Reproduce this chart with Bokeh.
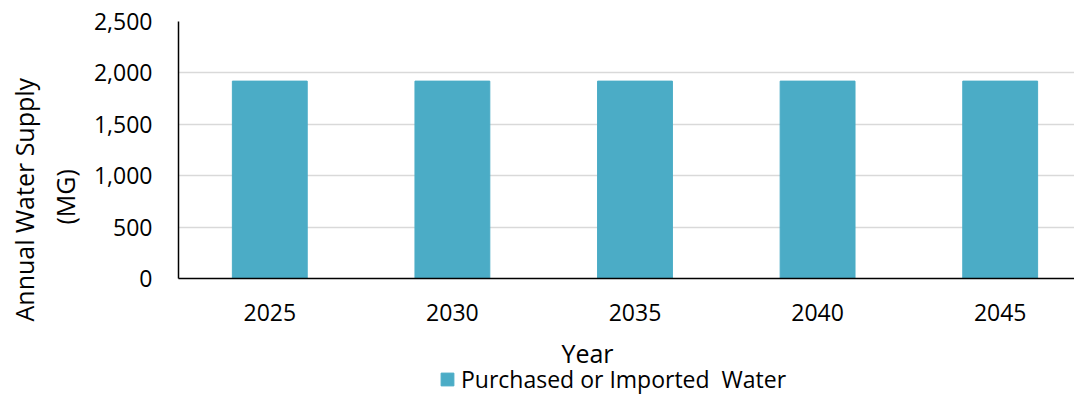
from bokeh.plotting import figure
from bokeh.layouts import column
from bokeh.models import (Range1d, FixedTicker, NumeralTickFormatter, Title, Legend,
                          LegendItem, Label)
from bokeh.embed import file_html
from bokeh.resources import INLINE

years = ["2025", "2030", "2035", "2040", "2045"]
supply = [1920, 1920, 1920, 1920, 1920]
y_ticks = [0, 500, 1000, 1500, 2000, 2500]
series_name = "Purchased or Imported  Water"
x_title = "Year"
y_title_1 = "Annual Water Supply"
y_title_2 = "(MG)"
bar_color = "#4BACC6"

FONT = "Open Sans"
FS = "23px"
TFS = "25px"

xs = list(range(len(years)))

MAIN_H = 335
LEFT = 178
p = figure(width=1074, height=MAIN_H, output_backend="svg", toolbar_location=None,
           x_range=Range1d(-0.5, 4.407), y_range=Range1d(0, 2500),
           min_border_left=LEFT, min_border_right=0, min_border_top=21,
           min_border_bottom=MAIN_H - 278)
p.outline_line_color = None
p.background_fill_color = "white"
p.border_fill_color = "white"

r = p.vbar(x=xs, top=supply, width=0.41, fill_color=bar_color, line_color=bar_color)

p.xgrid.grid_line_color = None
p.ygrid.grid_line_color = "#D9D9D9"
p.ygrid.grid_line_width = 1.5
p.ygrid.ticker = FixedTicker(ticks=y_ticks)

p.yaxis.ticker = FixedTicker(ticks=y_ticks)
p.yaxis.formatter = NumeralTickFormatter(format="0,0")
p.xaxis.ticker = FixedTicker(ticks=xs)
p.xaxis.major_label_overrides = {i: y for i, y in enumerate(years)}

for ax in (p.xaxis, p.yaxis):
    ax.axis_line_color = "black"
    ax.axis_line_width = 1.5
    ax.major_tick_line_color = None
    ax.minor_tick_line_color = None
    ax.major_tick_out = 0
    ax.major_tick_in = 0
    ax.major_label_text_font = FONT
    ax.major_label_text_font_size = FS
    ax.major_label_text_color = "black"
p.yaxis.major_label_standoff = 26
p.xaxis.major_label_standoff = 25

# y axis title (two lines)
p.add_layout(Title(text=y_title_2, align="left", offset=54, standoff=17,
                   text_font=FONT, text_font_size=TFS, text_font_style="normal",
                   text_color="black"), "left")
p.add_layout(Title(text=y_title_1, align="left", offset=-43, standoff=-6,
                   text_font=FONT, text_font_size=TFS, text_font_style="normal",
                   text_color="black"), "left")

# lower strip: x axis title and legend (frame aligned with the main plot's frame)
LOW_H = 395 - MAIN_H
q = figure(width=1074, height=LOW_H, output_backend="svg", toolbar_location=None,
           x_range=Range1d(10, 11), y_range=Range1d(0, 1),
           x_axis_type=None, y_axis_type=None,
           min_border_left=LEFT, min_border_right=0, min_border_top=0, min_border_bottom=0)
q.outline_line_color = None
q.xgrid.grid_line_color = None
q.ygrid.grid_line_color = None
q.background_fill_color = "white"
q.border_fill_color = "white"

q.add_layout(Label(x=587 - LEFT, y=395 - 352, x_units="screen", y_units="screen",
                   text=x_title, text_align="center", text_baseline="middle",
                   text_font=FONT, text_font_size=TFS, text_color="black"))

# hidden legend proxy for the bar series
proxy = q.vbar(x=xs[:1], top=supply[:1], width=0.41, fill_color=bar_color,
               line_color=bar_color, visible=False)
legend = Legend(items=[LegendItem(label=series_name, renderers=[proxy])],
                location=(439 - LEFT, 0), orientation="horizontal",
                glyph_width=16, glyph_height=16, label_standoff=6,
                padding=0, margin=0, border_line_color=None, background_fill_alpha=0,
                inactive_fill_alpha=0,
                label_text_font=FONT, label_text_font_size=FS, label_text_color="black")
q.add_layout(legend, "center")

layout = column(p, q, spacing=0)
open("out.html", "w").write(file_html(layout, INLINE))
